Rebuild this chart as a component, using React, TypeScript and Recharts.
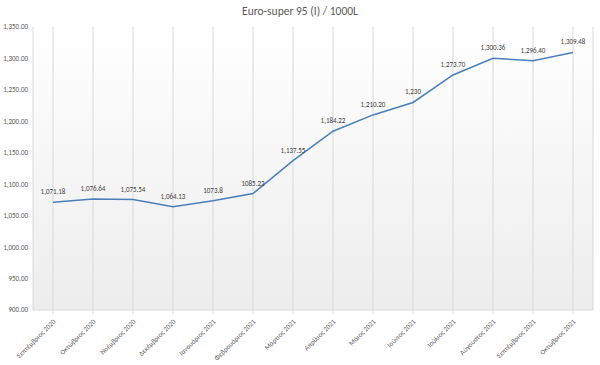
import { LineChart, Line, XAxis, YAxis, CartesianGrid, LabelList } from "recharts";

const months = [
  "Σεπτέμβριος 2020",
  "Οκτώβριος 2020",
  "Νοέμβριος 2020",
  "Δεκέμβριος 2020",
  "Ιανουάριος 2021",
  "Φεβρουάριος 2021",
  "Μάρτιος 2021",
  "Απρίλιος 2021",
  "Μάιος 2021",
  "Ιούνιος 2021",
  "Ιούλιος 2021",
  "Αύγουστος 2021",
  "Σεπτέμβριος 2021",
  "Οκτώβριος 2021",
];

const prices = [
  1071.18, 1076.64, 1075.54, 1064.13, 1073.8, 1085.22, 1137.55, 1184.22, 1210.2, 1230, 1273.7,
  1300.36, 1296.4, 1309.48,
];

// labels as printed in the source (mixed formatting)
const priceLabels = [
  "1,071.18",
  "1,076.64",
  "1,075.54",
  "1,064.13",
  "1073.8",
  "1085.22",
  "1,137.55",
  "1,184.22",
  "1,210.20",
  "1,230",
  "1,273.70",
  "1,300.36",
  "1,296.40",
  "1,309.48",
];

const yTicks = [900, 950, 1000, 1050, 1100, 1150, 1200, 1250, 1300, 1350];

const data = months.map((m, i) => ({ month: m, price: prices[i], label: priceLabels[i] }));

const FONT = "Calibri, Carlito, 'Liberation Sans', 'Open Sans', sans-serif";
const TEXT = "#595959";

function MonthTick(props: any) {
  const { x, y, payload } = props;
  return (
    <g transform={`translate(${x + 3},${y + 6})`}>
      <text
        transform="rotate(-45)"
        textAnchor="end"
        fontSize={7}
        fontFamily={FONT}
        fill={TEXT}
      >
        {payload.value}
      </text>
    </g>
  );
}

export default function App() {
  return (
    <div style={{ position: "absolute", left: 0, top: 0, width: 600, height: 365, background: "#fff" }}>
      <div
        style={{
          position: "absolute",
          top: 4,
          width: 600,
          textAlign: "center",
          fontFamily: FONT,
          fontSize: 11.5,
          color: TEXT,
        }}
      >
        Euro-super 95 (I) / 1000L
      </div>
      <LineChart
        width={600}
        height={365}
        data={data}
        margin={{ top: 27, right: 7, left: 0, bottom: 0 }}
      >
        <defs>
          <linearGradient id="plotBg" x1="0" y1="0" x2="0" y2="1">
            <stop offset="0%" stopColor="#ffffff" />
            <stop offset="100%" stopColor="#ededed" />
          </linearGradient>
        </defs>
        <CartesianGrid
          horizontal={false}
          vertical
          stroke="#d9d9d9"
          strokeWidth={1}
          fill="url(#plotBg)"
        />
        <XAxis
          dataKey="month"
          interval={0}
          height={55}
          padding={{ left: 20, right: 20 }}
          tick={<MonthTick />}
          axisLine={{ stroke: "#d9d9d9" }}
          tickLine={{ stroke: "#d9d9d9" }}
          tickSize={4}
        />
        <YAxis
          domain={[900, 1350]}
          ticks={yTicks}
          width={33}
          axisLine={false}
          tickLine={false}
          tickSize={0}
          tickMargin={5}
          tickFormatter={(v: number) =>
            v.toLocaleString("en-US", { minimumFractionDigits: 2, maximumFractionDigits: 2 })
          }
          tick={{ fontSize: 7, fill: TEXT, fontFamily: FONT }}
        />
        <Line
          type="linear"
          dataKey="price"
          stroke="#4a7ebb"
          strokeWidth={1.5}
          dot={false}
          isAnimationActive={false}
        >
          <LabelList
            dataKey="label"
            position="top"
            offset={8}
            fontSize={7}
            fill="#404040"
            fontFamily={FONT}
          />
        </Line>
      </LineChart>
    </div>
  );
}
